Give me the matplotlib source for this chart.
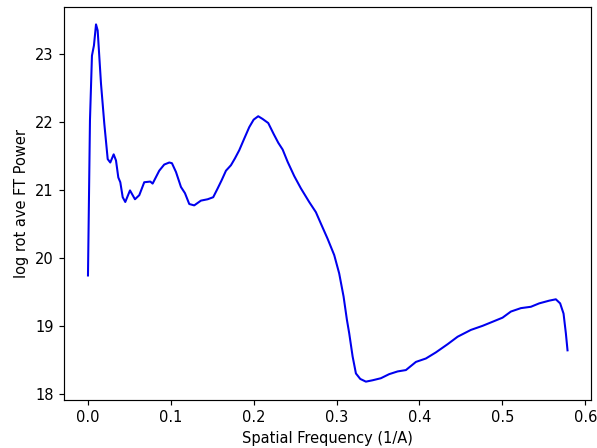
import matplotlib
matplotlib.use("Agg")
import matplotlib.pyplot as plt

freq = [0.0, 0.0024, 0.0048, 0.0072, 0.0097, 0.0117, 0.0157, 0.0197, 0.0238, 0.0269,
        0.0310, 0.0338, 0.0366, 0.0390, 0.0419, 0.0450, 0.0507, 0.0567, 0.0619, 0.0679,
        0.0752, 0.0780, 0.0860, 0.0920, 0.0981, 0.1013, 0.1062, 0.1122, 0.1170, 0.1222,
        0.1282, 0.1363, 0.1444, 0.1511, 0.1565, 0.1613, 0.1665, 0.1725, 0.1773, 0.1825,
        0.1885, 0.1946, 0.1999, 0.2054, 0.2107, 0.2175, 0.2240, 0.2296, 0.2349, 0.2409,
        0.2489, 0.2569, 0.2669, 0.2750, 0.2811, 0.2891, 0.2971, 0.3031, 0.3084, 0.3124,
        0.3152, 0.3193, 0.3233, 0.3285, 0.3353, 0.3434, 0.3534, 0.3634, 0.3736, 0.3836,
        0.3957, 0.4077, 0.4198, 0.4339, 0.4460, 0.4620, 0.4761, 0.4882, 0.5002, 0.5103,
        0.5223, 0.5344, 0.5444, 0.5565, 0.5645, 0.5697, 0.5738, 0.5766, 0.5786]
power = [19.74, 22.02, 22.97, 23.12, 23.43, 23.34, 22.56, 21.97, 21.45, 21.40,
         21.52, 21.43, 21.18, 21.11, 20.89, 20.82, 20.99, 20.86, 20.92, 21.11,
         21.12, 21.09, 21.28, 21.37, 21.40, 21.39, 21.26, 21.04, 20.95, 20.79,
         20.77, 20.84, 20.86, 20.89, 21.02, 21.14, 21.28, 21.36, 21.46, 21.58,
         21.75, 21.92, 22.03, 22.08, 22.04, 21.98, 21.82, 21.69, 21.59, 21.41,
         21.20, 21.02, 20.82, 20.67, 20.50, 20.28, 20.04, 19.77, 19.43, 19.09,
         18.89, 18.55, 18.30, 18.22, 18.18, 18.20, 18.23, 18.29, 18.33, 18.35,
         18.47, 18.52, 18.61, 18.73, 18.84, 18.94, 19.00, 19.06, 19.12, 19.21,
         19.26, 19.28, 19.33, 19.37, 19.39, 19.33, 19.18, 18.89, 18.64]

DPI = 105.4
fig, ax = plt.subplots(figsize=(597 / DPI, 448 / DPI), dpi=DPI)
fig.subplots_adjust(left=64 / 597, right=591.5 / 597, top=1 - 6.5 / 448, bottom=1 - 399.5 / 448)
ax.plot(freq, power, color="#0000ee", linewidth=1.4)
ax.set_xlabel("Spatial Frequency (1/A)")
ax.set_ylabel("log rot ave FT Power")
fig.savefig("out.png", dpi=DPI)
